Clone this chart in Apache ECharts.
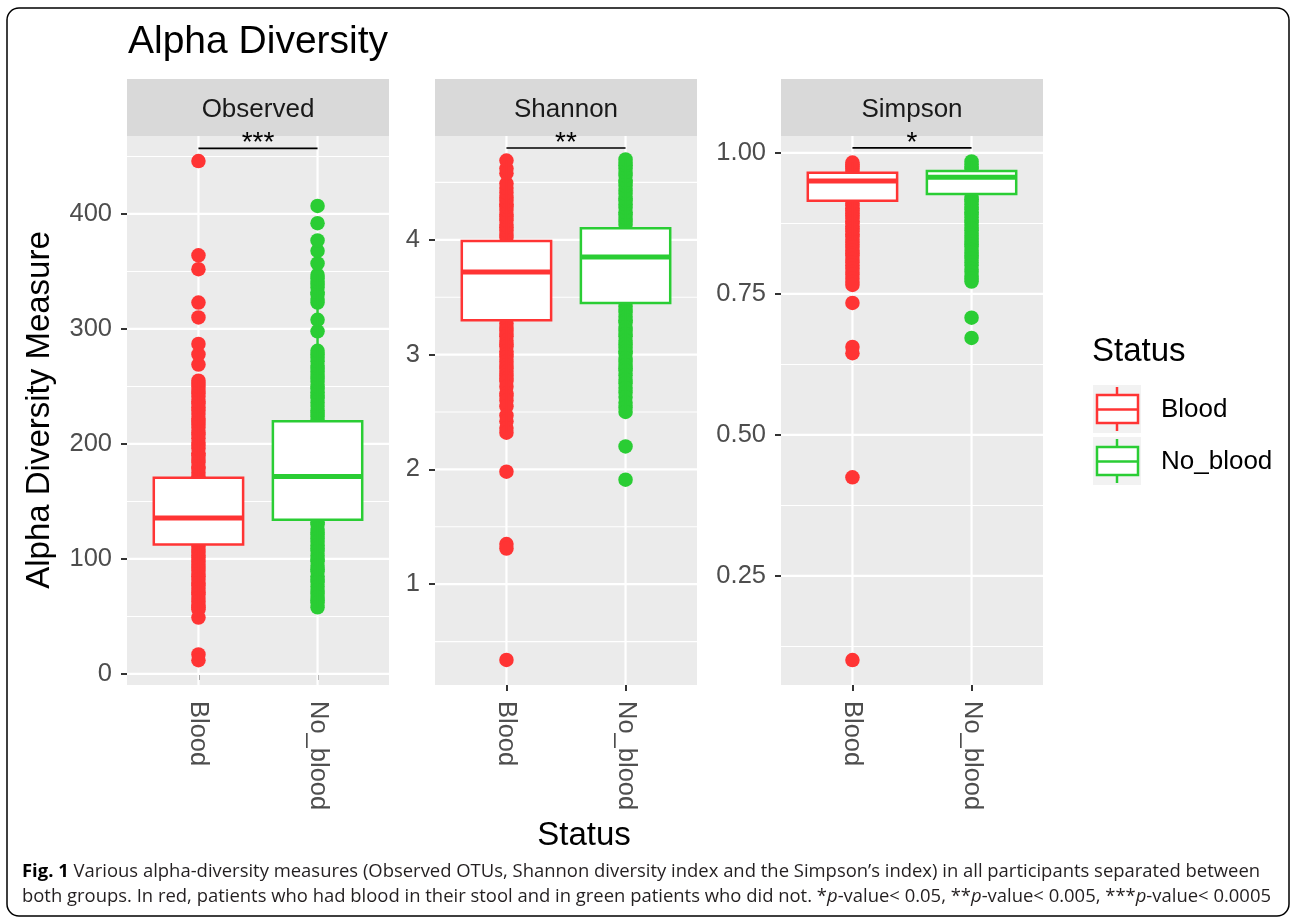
<!DOCTYPE html>
<html><head><meta charset="utf-8">
<script src="https://cdn.jsdelivr.net/npm/echarts@6/dist/echarts.min.js"></script>
<style>html,body{margin:0;padding:0;background:#fff}#c{width:1292px;height:919px}</style>
</head><body><div id="c"></div>
<script>
// ---------------- DATA ----------------
const categories = ['Blood', 'No_blood'];
const panels = ['Observed', 'Shannon', 'Simpson'];
const sigLabels = ['***', '**', '*'];
const sigY = [457, 4.80, 1.009];

const yMin = [-9.6, 0.122, 0.0567];
const yMax = [467.8, 4.904, 1.030];
const yTicks = [[0, 100, 200, 300, 400], [1, 2, 3, 4], [0.25, 0.50, 0.75, 1.00]];
const yMinor = [[50, 150, 250, 350, 450], [0.5, 1.5, 2.5, 3.5, 4.5], [0.125, 0.375, 0.625, 0.875]];
const yDecimals = [0, 0, 2];

// box stats: [q1, median, q3, whiskerLow, whiskerHigh]
const observedBloodBox   = [112.5, 135.6, 170.7, 49, 255];
const observedNoBloodBox = [134.1, 171.6, 219.7, 58, 347];
const shannonBloodBox    = [3.30, 3.72, 3.99, 2.32, 4.69];
const shannonNoBloodBox  = [3.45, 3.85, 4.10, 2.50, 4.70];
const simpsonBloodBox    = [0.915, 0.950, 0.965, 0.845, 0.983];
const simpsonNoBloodBox  = [0.927, 0.957, 0.968, 0.868, 0.985];

// visible points (outside the boxes)
const observedBloodPts = [172, 175, 179, 180, 184, 187, 190, 192, 196, 199, 201, 205, 208, 210, 214, 217, 220, 222, 226, 229, 232, 235, 237, 241, 244, 247, 250, 253, 255, 269, 278, 287, 310, 323, 352, 364, 446,
  111, 108, 106, 103, 101, 98, 95, 93, 90, 87, 85, 82, 79, 77, 74, 71, 69, 66, 63, 60, 58, 56, 49, 17, 12];
const observedNoBloodPts = [221, 224, 227, 229, 233, 236, 240, 242, 245, 248, 250, 254, 257, 260, 263, 266, 268, 272, 275, 278, 281, 298, 308, 323, 326, 330, 332, 336, 339, 341, 344, 347, 357, 368, 377, 392, 407,
  132, 130, 126, 123, 121, 118, 115, 112, 109, 107, 103, 100, 98, 94, 91, 89, 85, 82, 80, 76, 73, 70, 67, 64, 62, 58];
const shannonBloodPts = [4.02, 4.05, 4.08, 4.11, 4.13, 4.17, 4.20, 4.22, 4.26, 4.29, 4.31, 4.34, 4.37, 4.41, 4.45, 4.49, 4.58, 4.62, 4.69,
  3.27, 3.24, 3.21, 3.18, 3.16, 3.12, 3.09, 3.07, 3.03, 3.00, 2.98, 2.94, 2.91, 2.88, 2.85, 2.82, 2.79, 2.77, 2.72, 2.66, 2.64, 2.60, 2.55, 2.47, 2.42, 2.36, 2.32, 1.98, 1.35, 1.31, 0.34];
const shannonNoBloodPts = [4.13, 4.16, 4.19, 4.22, 4.24, 4.28, 4.31, 4.34, 4.36, 4.40, 4.43, 4.47, 4.50, 4.52, 4.56, 4.59, 4.62, 4.65, 4.67, 4.70,
  3.42, 3.39, 3.37, 3.33, 3.30, 3.28, 3.24, 3.21, 3.18, 3.16, 3.12, 3.09, 3.06, 3.03, 3.01, 2.97, 2.94, 2.91, 2.88, 2.86, 2.82, 2.78, 2.75, 2.71, 2.67, 2.63, 2.58, 2.54, 2.50, 2.20, 1.91];
const simpsonBloodPts = [0.968, 0.972, 0.976, 0.979, 0.983,
  0.911, 0.907, 0.902, 0.898, 0.893, 0.889, 0.884, 0.879, 0.875, 0.870, 0.866, 0.861, 0.856, 0.852, 0.846, 0.842, 0.837, 0.833, 0.827, 0.822, 0.818, 0.812, 0.806, 0.801, 0.795, 0.789, 0.784, 0.777, 0.771, 0.766, 0.734, 0.656, 0.645, 0.425, 0.101];
const simpsonNoBloodPts = [0.972, 0.975, 0.980, 0.985,
  0.922, 0.918, 0.914, 0.909, 0.904, 0.900, 0.895, 0.891, 0.886, 0.881, 0.877, 0.872, 0.867, 0.863, 0.858, 0.853, 0.849, 0.843, 0.838, 0.834, 0.828, 0.823, 0.818, 0.813, 0.806, 0.801, 0.794, 0.789, 0.782, 0.777, 0.772, 0.708, 0.672];

const boxes = [[observedBloodBox, observedNoBloodBox], [shannonBloodBox, shannonNoBloodBox], [simpsonBloodBox, simpsonNoBloodBox]];
const points = [[observedBloodPts, observedNoBloodPts], [shannonBloodPts, shannonNoBloodPts], [simpsonBloodPts, simpsonNoBloodPts]];

// ---------------- STYLE / LAYOUT ----------------
const colors = ['#FF3434', '#2ACD34'];
const FONT = "'Liberation Sans', Arial, Helvetica, sans-serif";
const panelLeft = [127, 435, 781];
const panelW = 262, panelTop = 136, panelH = 549;
const stripTop = 79, stripH = 57;
const BOX_W = 0.75;
const BOX_LW = 2.5;

const chart = echarts.init(document.getElementById('c'), null, {renderer: 'canvas'});

const grids = [], xAxes = [], yAxes = [], series = [];
panels.forEach((name, p) => {
  grids.push({left: panelLeft[p], top: panelTop, width: panelW, height: panelH, show: true, backgroundColor: '#EBEBEB', borderWidth: 0, containLabel: false});
  xAxes.push({
    type: 'value', gridIndex: p, min: 0.4, max: 2.6,
    axisLine: {show: false}, splitLine: {show: false},
    axisTick: {show: true, customValues: [1, 2], length: 6, lineStyle: {color: '#333333', width: 2}},
    axisLabel: {customValues: [1, 2], formatter: v => categories[Math.round(v) - 1], rotate: -90, margin: 16,
      fontSize: 25.5, color: '#4D4D4D', fontFamily: FONT}
  });
  yAxes.push({
    type: 'value', gridIndex: p, min: yMin[p], max: yMax[p],
    axisLine: {show: false}, splitLine: {show: false},
    axisTick: {show: true, customValues: yTicks[p], length: 6, lineStyle: {color: '#333333', width: 2}},
    axisLabel: {customValues: yTicks[p], formatter: v => Number(v).toFixed(yDecimals[p]), margin: 15,
      fontSize: 25.5, color: '#4D4D4D', fontFamily: FONT}
  });
  // gridlines
  const hData = yTicks[p].map(v => [1, v, 1]).concat(yMinor[p].map(v => [1, v, 0]));
  series.push({
    type: 'custom', xAxisIndex: p, yAxisIndex: p, z: 1, silent: true, animation: false,
    data: hData,
    renderItem: (params, api) => {
      const y = api.coord([1, api.value(1)])[1];
      const cs = params.coordSys;
      return {type: 'line', shape: {x1: cs.x, y1: y, x2: cs.x + cs.width, y2: y},
        style: {stroke: '#FFFFFF', lineWidth: api.value(2) ? 2.2 : 1.1}};
    }
  });
  series.push({
    type: 'custom', xAxisIndex: p, yAxisIndex: p, z: 1, silent: true, animation: false,
    data: [[1, yTicks[p][0]], [2, yTicks[p][0]]],
    renderItem: (params, api) => {
      const x = api.coord([api.value(0), api.value(1)])[0];
      const cs = params.coordSys;
      return {type: 'line', shape: {x1: x, y1: cs.y, x2: x, y2: cs.y + cs.height},
        style: {stroke: '#FFFFFF', lineWidth: 2.2}};
    }
  });
  // points
  categories.forEach((c, ci) => {
    series.push({
      type: 'scatter', name: c, xAxisIndex: p, yAxisIndex: p, z: 2, silent: true, animation: false,
      symbol: 'circle', symbolSize: 14.5,
      itemStyle: {color: colors[ci], opacity: 1},
      data: points[p][ci].map(v => [ci + 1, v])
    });
  });
  // boxes
  series.push({
    type: 'custom', xAxisIndex: p, yAxisIndex: p, z: 3, silent: true, animation: false,
    data: boxes[p].map((b, ci) => [ci + 1].concat(b).concat([ci])),
    renderItem: (params, api) => {
      const x = api.value(0);
      const q1 = api.value(1), med = api.value(2), q3 = api.value(3), lo = api.value(4), hi = api.value(5);
      const color = colors[api.value(6)];
      const pTL = api.coord([x - BOX_W / 2, q3]);
      const pBR = api.coord([x + BOX_W / 2, q1]);
      const pm = api.coord([x, med]);
      const pLo = api.coord([x, lo]);
      const pHi = api.coord([x, hi]);
      return {type: 'group', children: [
        {type: 'line', shape: {x1: pHi[0], y1: pHi[1], x2: pHi[0], y2: pTL[1]}, style: {stroke: color, lineWidth: BOX_LW}},
        {type: 'line', shape: {x1: pLo[0], y1: pBR[1], x2: pLo[0], y2: pLo[1]}, style: {stroke: color, lineWidth: BOX_LW}},
        {type: 'rect', shape: {x: pTL[0], y: pTL[1], width: pBR[0] - pTL[0], height: pBR[1] - pTL[1]},
          style: {fill: '#FFFFFF', stroke: color, lineWidth: BOX_LW}},
        {type: 'line', shape: {x1: pTL[0], y1: pm[1], x2: pBR[0], y2: pm[1]}, style: {stroke: color, lineWidth: BOX_LW * 2}}
      ]};
    }
  });
  // significance bracket
  series.push({
    type: 'custom', xAxisIndex: p, yAxisIndex: p, z: 4, silent: true, animation: false,
    data: [[1, sigY[p], 2]],
    renderItem: (params, api) => {
      const a = api.coord([api.value(0), api.value(1)]);
      const b = api.coord([api.value(2), api.value(1)]);
      return {type: 'group', children: [
        {type: 'line', shape: {x1: a[0], y1: a[1], x2: b[0], y2: a[1]}, style: {stroke: '#000000', lineWidth: 1.6}},
        {type: 'text', x: (a[0] + b[0]) / 2, y: a[1] - 5,
          style: {text: sigLabels[p], fontSize: 28, fontFamily: FONT, fill: '#000000', align: 'center', verticalAlign: 'middle'}}
      ]};
    }
  });
});

// ---------------- TEXT / DECORATION ----------------
const graphics = [];
graphics.push({type: 'rect', shape: {x: 7, y: 8, width: 1282, height: 908, r: 12}, style: {fill: 'none', stroke: '#000', lineWidth: 1.5}, z: 0});
graphics.push({type: 'text', x: 128, y: 42, style: {text: 'Alpha Diversity', fontSize: 39, fontFamily: FONT, fill: '#000', align: 'left', verticalAlign: 'middle'}});
panels.forEach((name, p) => {
  graphics.push({type: 'rect', shape: {x: panelLeft[p], y: stripTop, width: panelW, height: stripH}, style: {fill: '#D9D9D9'}});
  graphics.push({type: 'text', x: panelLeft[p] + panelW / 2, y: stripTop + stripH / 2 + 2,
    style: {text: name, fontSize: 26, fontFamily: FONT, fill: '#1A1A1A', align: 'center', verticalAlign: 'middle'}});
});
graphics.push({type: 'text', x: 40, y: 410, rotation: Math.PI / 2,
  style: {text: 'Alpha Diversity Measure', fontSize: 33, fontFamily: FONT, fill: '#000', align: 'center', verticalAlign: 'middle'}});
graphics.push({type: 'text', x: 584, y: 836,
  style: {text: 'Status', fontSize: 33, fontFamily: FONT, fill: '#000', align: 'center', verticalAlign: 'middle'}});
// legend
graphics.push({type: 'text', x: 1092, y: 352, style: {text: 'Status', fontSize: 33, fontFamily: FONT, fill: '#000', align: 'left', verticalAlign: 'middle'}});
categories.forEach((c, ci) => {
  const ky = 385 + ci * 52;
  graphics.push({type: 'rect', shape: {x: 1093, y: ky, width: 48, height: 48}, style: {fill: '#F2F2F2'}});
  graphics.push({type: 'line', shape: {x1: 1117, y1: ky + 2, x2: 1117, y2: ky + 46}, style: {stroke: colors[ci], lineWidth: 2.5}});
  graphics.push({type: 'rect', shape: {x: 1097, y: ky + 10, width: 41, height: 28}, style: {fill: '#FFFFFF', stroke: colors[ci], lineWidth: 2.5}});
  graphics.push({type: 'line', shape: {x1: 1097, y1: ky + 24.5, x2: 1138, y2: ky + 24.5}, style: {stroke: colors[ci], lineWidth: 2.5}});
  graphics.push({type: 'text', x: 1161, y: ky + 25, style: {text: c, fontSize: 26, fontFamily: FONT, fill: '#000', align: 'left', verticalAlign: 'middle'}});
});

// caption
const capLine1 = ['Fig. 1', ' Various alpha-diversity measures (Observed OTUs, Shannon diversity index and the Simpson\u2019s index) in all participants separated between'];
const capLine2 = 'both groups. In red, patients who had blood in their stool and in green patients who did not. *{i|p}-value< 0.05, **{i|p}-value< 0.005, ***{i|p}-value< 0.0005';
const capSize = 18.45;
const CAPF = '"Open Sans", sans-serif';
graphics.push({type: 'text', x: 22, y: 872, style: {
  text: '{b|' + capLine1[0] + '}{r|' + capLine1[1] + '}', verticalAlign: 'middle', align: 'left',
  fontSize: capSize, fontFamily: CAPF, fill: '#231F20',
  rich: {b: {fontWeight: 'bold', fontSize: capSize, fontFamily: CAPF, fill: '#000'}, r: {fontWeight: 'normal', fontSize: capSize, fontFamily: CAPF, fill: '#231F20'}}
}});
graphics.push({type: 'text', x: 22, y: 897, style: {
  text: capLine2, verticalAlign: 'middle', align: 'left',
  fontSize: capSize, fontFamily: CAPF, fill: '#231F20',
  rich: {i: {fontStyle: 'italic', fontSize: capSize, fontFamily: CAPF, fill: '#231F20'}}
}});

chart.setOption({
  animation: false,
  backgroundColor: '#FFFFFF',
  grid: grids, xAxis: xAxes, yAxis: yAxes, series: series,
  graphic: {elements: graphics}
});
</script>
</body></html>
